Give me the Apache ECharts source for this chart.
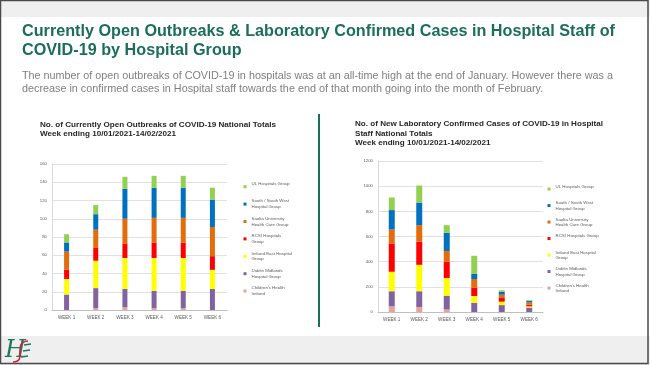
<!DOCTYPE html>
<html>
<head>
<meta charset="utf-8">
<script src="https://cdn.jsdelivr.net/npm/echarts@6/dist/echarts.min.js"></script>
<style>html,body{margin:0;padding:0;background:#fff}#c{width:650px;height:365px}</style>
</head>
<body>
<div id="c"></div>
<script>
// ---------- DATA ----------
const weeks = ['WEEK 1', 'WEEK 2', 'WEEK 3', 'WEEK 4', 'WEEK 5', 'WEEK 6'];
const groups = ["Children's Health Ireland", 'Dublin Midlands Hospital Group', 'Ireland East Hospital Group',
  'RCSI Hospitals Group', 'Saolta University Health Care Group', 'South / South West Hospital Group', 'UL Hospitals Group'];

// Currently open outbreaks (left chart), bottom to top of stack
const outbreaksCHI  = [0, 2, 3, 2, 2, 0];
const outbreaksDM   = [17, 22, 20, 19, 19, 23];
const outbreaksIE   = [17, 30, 34, 36, 36, 21];
const outbreaksRCSI = [10, 14, 16, 17, 17, 15];
const outbreaksSA   = [20, 20, 27, 27, 27, 32];
const outbreaksSSW  = [10, 17, 33, 33, 33, 30];
const outbreaksUL   = [9, 10, 13, 13, 13, 13];

// New laboratory confirmed cases in hospital staff (right chart)
const casesCHI  = [45, 40, 20, 0, 0, 0];
const casesDM   = [120, 125, 110, 72, 55, 35];
const casesIE   = [155, 210, 140, 55, 27, 10];
const casesRCSI = [225, 185, 130, 65, 29, 13];
const casesSA   = [110, 130, 85, 70, 26, 19];
const casesSSW  = [155, 180, 145, 40, 22, 13];
const casesUL   = [100, 135, 60, 145, 13, 3];

// axis ticks: [min, max, interval]
const outbreakTicks = [0, 160, 20];
const caseTicks = [0, 1200, 200];

// texts
const slideTitle = ['Currently Open Outbreaks & Laboratory Confirmed Cases in Hospital Staff of', 'COVID-19 by Hospital Group'];
const slideSub = ['The number of open outbreaks of COVID-19 in hospitals was at an all-time high at the end of January. However there was a',
  'decrease in confirmed cases in Hospital staff towards the end of that month going into the month of February.'];
const leftTitle = ['No. of Currently Open Outbreaks of COVID-19 National Totals', 'Week ending 10/01/2021-14/02/2021'];
const rightTitle = ['No. of New Laboratory Confirmed Cases of COVID-19 in Hospital', 'Staff National Totals', 'Week ending 10/01/2021-14/02/2021'];
const leftLegendText = ["Children's Health\nIreland", 'Dublin Midlands\nHospital Group', 'Ireland East Hospital\nGroup',
  'RCSI Hospitals\nGroup', 'Saolta University\nHealth Care Group', 'South / South West\nHospital Group', 'UL Hospitals Group\n '];
const rightLegendText = ["Children's Health\nIreland", 'Dublin Midlands\nHospital Group', 'Ireland East Hospital\nGroup',
  'RCSI Hospitals Group\n ', 'Saolta University\nHealth Care Group', 'South / South West\nHospital Group', 'UL Hospitals Group\n '];

// ---------- BUILD ----------
const outbreakSeries = [outbreaksCHI, outbreaksDM, outbreaksIE, outbreaksRCSI, outbreaksSA, outbreaksSSW, outbreaksUL];
const caseSeries = [casesCHI, casesDM, casesIE, casesRCSI, casesSA, casesSSW, casesUL];
const colors = ['#E6A19B', '#8064A2', '#FFFF00', '#FF0000', '#E46C0A', '#0070C0', '#92D050'];

const ctx = document.createElement('canvas').getContext('2d');
function fit(text, weight, size, family, width) {
  ctx.font = weight + ' ' + size + 'px ' + family;
  return width / ctx.measureText(text).width;
}
function txt(text, x, y, scale, weight, size, family, fill) {
  return { type: 'text', x: x, y: y, scaleX: scale, scaleY: 1, silent: true,
    style: { text: text, x: 0, y: 0, fontWeight: weight, fontSize: size, fontFamily: family, fill: fill,
      align: 'left', verticalAlign: 'middle' } };
}

const TF = '"Liberation Sans", Arial, sans-serif';
const sTitle = fit(slideTitle[0], 'bold', 17, TF, 593);
const sSub = fit(slideSub[0], 'normal', 11, TF, 591);
const sLT = fit(leftTitle[0], 'bold', 8, TF, 236);
const sRT = fit(rightTitle[0], 'bold', 8, TF, 248);

const series = [];
groups.forEach((g, i) => {
  series.push({ type: 'bar', name: g, stack: 'a', xAxisIndex: 0, yAxisIndex: 0, barWidth: 5,
    data: outbreakSeries[i], itemStyle: { color: colors[i] }, emphasis: { disabled: true } });
});
groups.forEach((g, i) => {
  series.push({ type: 'bar', name: g, stack: 'b', xAxisIndex: 1, yAxisIndex: 1, barWidth: 6,
    data: caseSeries[i], itemStyle: { color: colors[i] }, emphasis: { disabled: true } });
});

const labelFont = '"Liberation Sans", Arial, sans-serif';
function xAx(idx) {
  return { type: 'category', gridIndex: idx, data: weeks,
    axisLine: { lineStyle: { color: '#bfbfbf', width: 1 } }, axisTick: { show: false },
    axisLabel: { fontSize: 4.6, color: '#595959', fontFamily: labelFont, margin: 5 } };
}
function yAx(idx, t) {
  return { type: 'value', gridIndex: idx, min: t[0], max: t[1], interval: t[2],
    axisLine: { show: true, lineStyle: { color: '#d9d9d9', width: 1 } }, axisTick: { show: false },
    splitLine: { lineStyle: { color: '#d9d9d9', width: 0.8 } },
    axisLabel: { fontSize: 4.3, color: '#595959', fontFamily: labelFont, margin: 5, formatter: v => String(v) } };
}
function legend(left, top, L, textMap) {
  return { orient: 'vertical', left: left, top: top, itemWidth: 3, itemHeight: 3, itemGap: 0,
    icon: 'rect', selectedMode: false, padding: 0,
    data: groups.slice().reverse(),
    formatter: name => textMap[groups.indexOf(name)],
    textStyle: { fontSize: 4.4, lineHeight: L, color: '#595959', fontFamily: labelFont, padding: [L, 0, 0, 0] } };
}

const graphics = [
  { type: 'rect', shape: { x: 0, y: 0, width: 650, height: 17 }, style: { fill: '#efefef' }, silent: true },
  { type: 'rect', shape: { x: 0, y: 336, width: 650, height: 29 }, style: { fill: '#efefef' }, silent: true },
  { type: 'rect', shape: { x: 0.5, y: 0.5, width: 647.5, height: 363 }, style: { fill: null, stroke: '#4a4a4a', lineWidth: 1.5 }, silent: true },
  txt(slideTitle[0], 22, 31, sTitle, 'bold', 17, TF, '#1b6e5b'),
  txt(slideTitle[1], 22, 50, sTitle, 'bold', 17, TF, '#1b6e5b'),
  txt(slideSub[0], 22, 76, sSub, 'normal', 11, TF, '#7f7f7f'),
  txt(slideSub[1], 22, 89, sSub, 'normal', 11, TF, '#7f7f7f'),
  txt(leftTitle[0], 40, 124.5, sLT, 'bold', 8, TF, '#262626'),
  txt(leftTitle[1], 40, 134, sLT, 'bold', 8, TF, '#262626'),
  txt(rightTitle[0], 355, 124, sRT, 'bold', 8, TF, '#262626'),
  txt(rightTitle[1], 355, 133.5, sRT, 'bold', 8, TF, '#262626'),
  txt(rightTitle[2], 355, 143, sRT, 'bold', 8, TF, '#262626'),
  { type: 'line', shape: { x1: 319, y1: 114, x2: 319, y2: 327 }, style: { stroke: '#1b6e5b', lineWidth: 2 }, silent: true },
  // HSE logo approximation
  { type: 'text', x: 5, y: 351, silent: true,
    style: { text: 'H', fontSize: 24, fontStyle: 'italic', fontFamily: 'DejaVu Serif, serif', fill: '#1b7a5e', verticalAlign: 'middle' } },
  { type: 'bezierCurve', shape: { x1: 28, y1: 341, x2: 13, y2: 362, cpx1: 12, cpy1: 342, cpx2: 28, cpy2: 362 },
    style: { stroke: '#d3213b', lineWidth: 1.6, fill: null }, silent: true },
  { type: 'line', shape: { x1: 24, y1: 345, x2: 31, y2: 344 }, style: { stroke: '#1b7a5e', lineWidth: 1.3 }, silent: true },
  { type: 'line', shape: { x1: 23, y1: 351, x2: 30, y2: 350 }, style: { stroke: '#1b7a5e', lineWidth: 1.3 }, silent: true },
  { type: 'line', shape: { x1: 21, y1: 357, x2: 28, y2: 356 }, style: { stroke: '#1b7a5e', lineWidth: 1.3 }, silent: true }
];

const chart = echarts.init(document.getElementById('c'), null, { renderer: 'canvas' });
chart.setOption({
  animation: false,
  backgroundColor: '#ffffff',
  grid: [
    { left: 52, top: 164, width: 175, height: 146, containLabel: false },
    { left: 378, top: 161, width: 165, height: 151, containLabel: false }
  ],
  xAxis: [xAx(0), xAx(1)],
  yAxis: [yAx(0, outbreakTicks), yAx(1, caseTicks)],
  legend: [legend(243.5, 178, 5.8, leftLegendText), legend(547.5, 180.8, 5.5, rightLegendText)],
  series: series,
  graphic: graphics
});
</script>
</body>
</html>
